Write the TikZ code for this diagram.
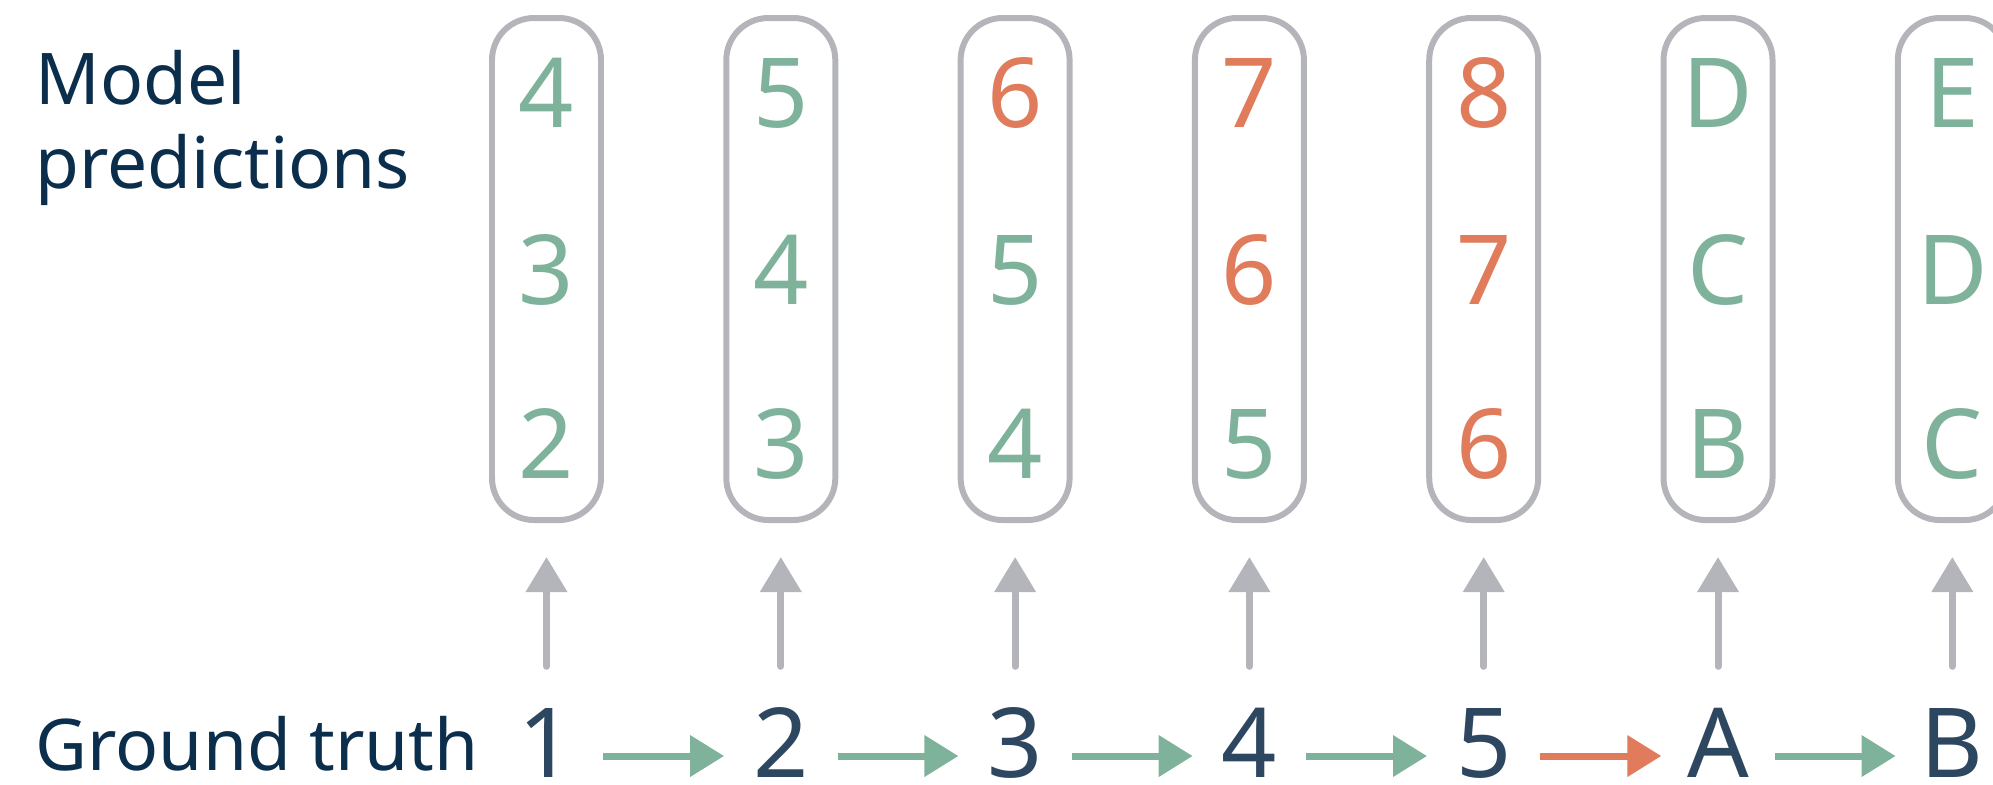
\documentclass[tikz,border=0pt]{standalone}
\usepackage{fontspec}
\setmainfont{Noto Sans}
\usetikzlibrary{arrows.meta,positioning}
\definecolor{okgreen}{HTML}{7FB29A}
\definecolor{badred}{HTML}{E07B5B}
\definecolor{boxgray}{HTML}{B3B5BA}
\definecolor{labelnavy}{HTML}{0B2E4C}
\definecolor{truthslate}{HTML}{2E4761}
\tikzset{
    predbox/.style={draw=boxgray, line width=1.7pt, rounded corners=0.42cm, minimum width=1.09cm, minimum height=5.02cm, inner sep=0},
    tok/.style={font=\fontsize{27.5}{30}\selectfont, inner sep=0, anchor=base},
    truth/.style={tok, text=truthslate, text height=0.70cm, text depth=0pt, minimum width=1.12cm},
    feed/.style={-{Triangle[length=0.35cm, width=0.4cm]}, line width=2pt, boxgray, line cap=round, shorten <=0.40cm, shorten >=0.34cm},
    nextok/.style={-{Triangle[length=0.34cm, width=0.4cm]}, line width=2pt},
    caption/.style={font=\fontsize{20.3}{23.8}\selectfont, text=labelnavy, inner sep=0, anchor=base west, align=left}
}

\begin{document}
\begin{tikzpicture}
    \useasboundingbox (0,0) rectangle (19.93,-7.84);

    % base of a two-line caption sits on its last line
    \node[caption] (predlabel) at (0.35,-1.88) {Model\\predictions};
    \node[caption, text depth=0pt] (truthlabel) at (0.35,-7.70) {Ground truth};

    % one column per ground-truth token: box of three guesses, token below
    \foreach \pa/\pb/\pc/\ca/\cb/\cc/\gt [count=\i] in {
        4/3/2/okgreen/okgreen/okgreen/1,
        5/4/3/okgreen/okgreen/okgreen/2,
        6/5/4/badred/okgreen/okgreen/3,
        7/6/5/badred/badred/okgreen/4,
        8/7/6/badred/badred/badred/5,
        D/C/B/okgreen/okgreen/okgreen/A,
        E/D/C/okgreen/okgreen/okgreen/B}
    {
        \pgfmathsetmacro{\x}{5.465+2.343*(\i-1)}
        \node[predbox] (p\i) at (\x,-2.69) {};
        \node[tok, text=\ca] (p\i a) at (\x,-1.27) {\pa};
        \node[tok, text=\cb] (p\i b) at (\x,-3.04) {\pb};
        \node[tok, text=\cc] (p\i c) at (\x,-4.78) {\pc};
        \node[truth] (g\i) at (\x,-7.77) {\gt};
        \draw[feed] (g\i) -- (p\i);
    }

    \foreach \i/\j/\col in {1/2/okgreen, 2/3/okgreen, 3/4/okgreen, 4/5/okgreen, 5/6/badred, 6/7/okgreen}
        \draw[nextok, \col] ([yshift=-0.14cm]g\i.east) -- ([yshift=-0.14cm]g\j.west);
\end{tikzpicture}
\end{document}
